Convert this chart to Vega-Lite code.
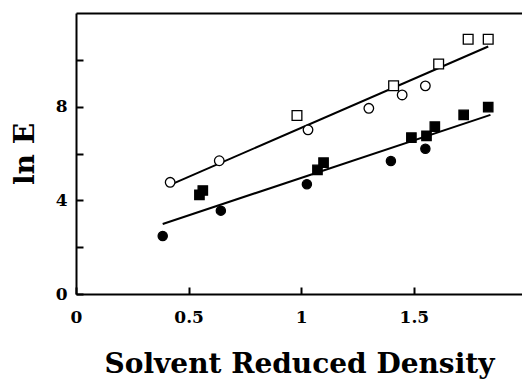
{
  "$schema": "https://vega.github.io/schema/vega-lite/v6.json",
  "width": 446,
  "height": 281,
  "autosize": "none",
  "padding": {"left": 76, "top": 13, "right": 0, "bottom": 85},
  "background": "white",
  "config": {
    "view": {"stroke": null},
    "font": "DejaVu Serif",
    "axis": {
      "domainColor": "black", "domainWidth": 2, "tickColor": "black", "tickWidth": 2, "grid": false,
      "labelFont": "DejaVu Serif", "labelFontWeight": "bold", "labelFontSize": 17, "labelColor": "black",
      "titleFont": "DejaVu Serif", "titleFontWeight": "bold", "titleFontSize": 28, "titleColor": "black"
    }
  },
  "datasets": {
    "pts": [
      {"series": "open square", "x": 0.981, "y": 7.62},
      {"series": "open square", "x": 1.41, "y": 8.89},
      {"series": "open square", "x": 1.61, "y": 9.82},
      {"series": "open square", "x": 1.741, "y": 10.88},
      {"series": "open square", "x": 1.83, "y": 10.88},
      {"series": "open circle", "x": 0.418, "y": 4.77},
      {"series": "open circle", "x": 0.636, "y": 5.69},
      {"series": "open circle", "x": 1.03, "y": 7.01},
      {"series": "open circle", "x": 1.30, "y": 7.93},
      {"series": "open circle", "x": 1.448, "y": 8.50},
      {"series": "open circle", "x": 1.551, "y": 8.89},
      {"series": "filled square", "x": 0.548, "y": 4.23},
      {"series": "filled square", "x": 0.563, "y": 4.42},
      {"series": "filled square", "x": 1.072, "y": 5.30},
      {"series": "filled square", "x": 1.099, "y": 5.61},
      {"series": "filled square", "x": 1.489, "y": 6.68},
      {"series": "filled square", "x": 1.556, "y": 6.75},
      {"series": "filled square", "x": 1.593, "y": 7.15},
      {"series": "filled square", "x": 1.721, "y": 7.65},
      {"series": "filled square", "x": 1.83, "y": 7.98},
      {"series": "filled circle", "x": 0.385, "y": 2.48},
      {"series": "filled circle", "x": 0.643, "y": 3.56},
      {"series": "filled circle", "x": 1.025, "y": 4.69},
      {"series": "filled circle", "x": 1.398, "y": 5.68},
      {"series": "filled circle", "x": 1.551, "y": 6.20}
    ],
    "fits": [
      {"fit": "upper", "x": 0.418, "y": 4.66},
      {"fit": "upper", "x": 1.83, "y": 10.57},
      {"fit": "lower", "x": 0.385, "y": 2.99},
      {"fit": "lower", "x": 1.84, "y": 7.65}
    ]
  },
  "layer": [
    {
      "data": {"name": "fits"},
      "mark": {"type": "line", "color": "black", "strokeWidth": 2},
      "encoding": {
        "x": {"field": "x", "type": "quantitative", "scale": {"domain": [0, 1.98], "nice": false, "zero": false},
          "axis": {"orient": "bottom", "values": [0, 0.5, 1, 1.5], "format": "~g", "offset": -7, "ticks": true, "tickSize": 7, "domain": false, "zindex": 2,
            "labelPadding": 15, "title": "Solvent Reduced Density", "titlePadding": 25, "labelFlush": false}},
        "y": {"field": "y", "type": "quantitative", "scale": {"domain": [0, 12], "nice": false},
          "axis": {"values": [0, 2, 4, 6, 8, 10], "offset": -7, "ticks": true, "tickSize": 7, "domain": false, "zindex": 2, "labelPadding": 9,
            "labelExpr": "datum.value % 4 == 0 ? datum.label : ''", "title": "ln E", "titlePadding": 16}},
        "detail": {"field": "fit"}
      }
    },
    {
      "data": {"name": "pts"},
      "transform": [{"filter": "indexof(datum.series, 'open') == 0"}],
      "mark": {"type": "point", "filled": true, "stroke": "black", "strokeWidth": 1.3, "opacity": 1},
      "encoding": {
        "x": {"field": "x", "type": "quantitative", "axis": {"orient": "top", "labels": false, "ticks": false, "title": null, "domain": true, "zindex": 1}},
        "y": {"field": "y", "type": "quantitative", "axis": {"orient": "left", "labels": false, "ticks": false, "title": null, "domain": true, "zindex": 1}},
        "shape": {"field": "series", "type": "nominal", "legend": null,
          "scale": {"domain": ["open square", "open circle", "filled square", "filled circle"], "range": ["square", "circle", "square", "circle"]}},
        "fill": {"field": "series", "type": "nominal", "legend": null,
          "scale": {"domain": ["open square", "open circle", "filled square", "filled circle"], "range": ["white", "white", "black", "black"]}},
        "size": {"field": "series", "type": "nominal", "legend": null,
          "scale": {"domain": ["open square", "open circle", "filled square", "filled circle"], "range": [95, 85, 95, 105]}}
      }
    },
    {
      "data": {"name": "pts"},
      "transform": [{"filter": "indexof(datum.series, 'filled') == 0"}],
      "mark": {"type": "point", "filled": true, "stroke": "black", "strokeWidth": 1.3, "opacity": 1},
      "encoding": {
        "x": {"field": "x", "type": "quantitative", "axis": {"orient": "bottom", "labels": false, "ticks": false, "title": null, "domain": true, "zindex": 1}},
        "y": {"field": "y", "type": "quantitative", "axis": null},
        "shape": {"field": "series", "type": "nominal", "legend": null},
        "fill": {"field": "series", "type": "nominal", "legend": null},
        "size": {"field": "series", "type": "nominal", "legend": null}
      }
    }
  ],
  "resolve": {"axis": {"x": "independent", "y": "independent"}}
}
